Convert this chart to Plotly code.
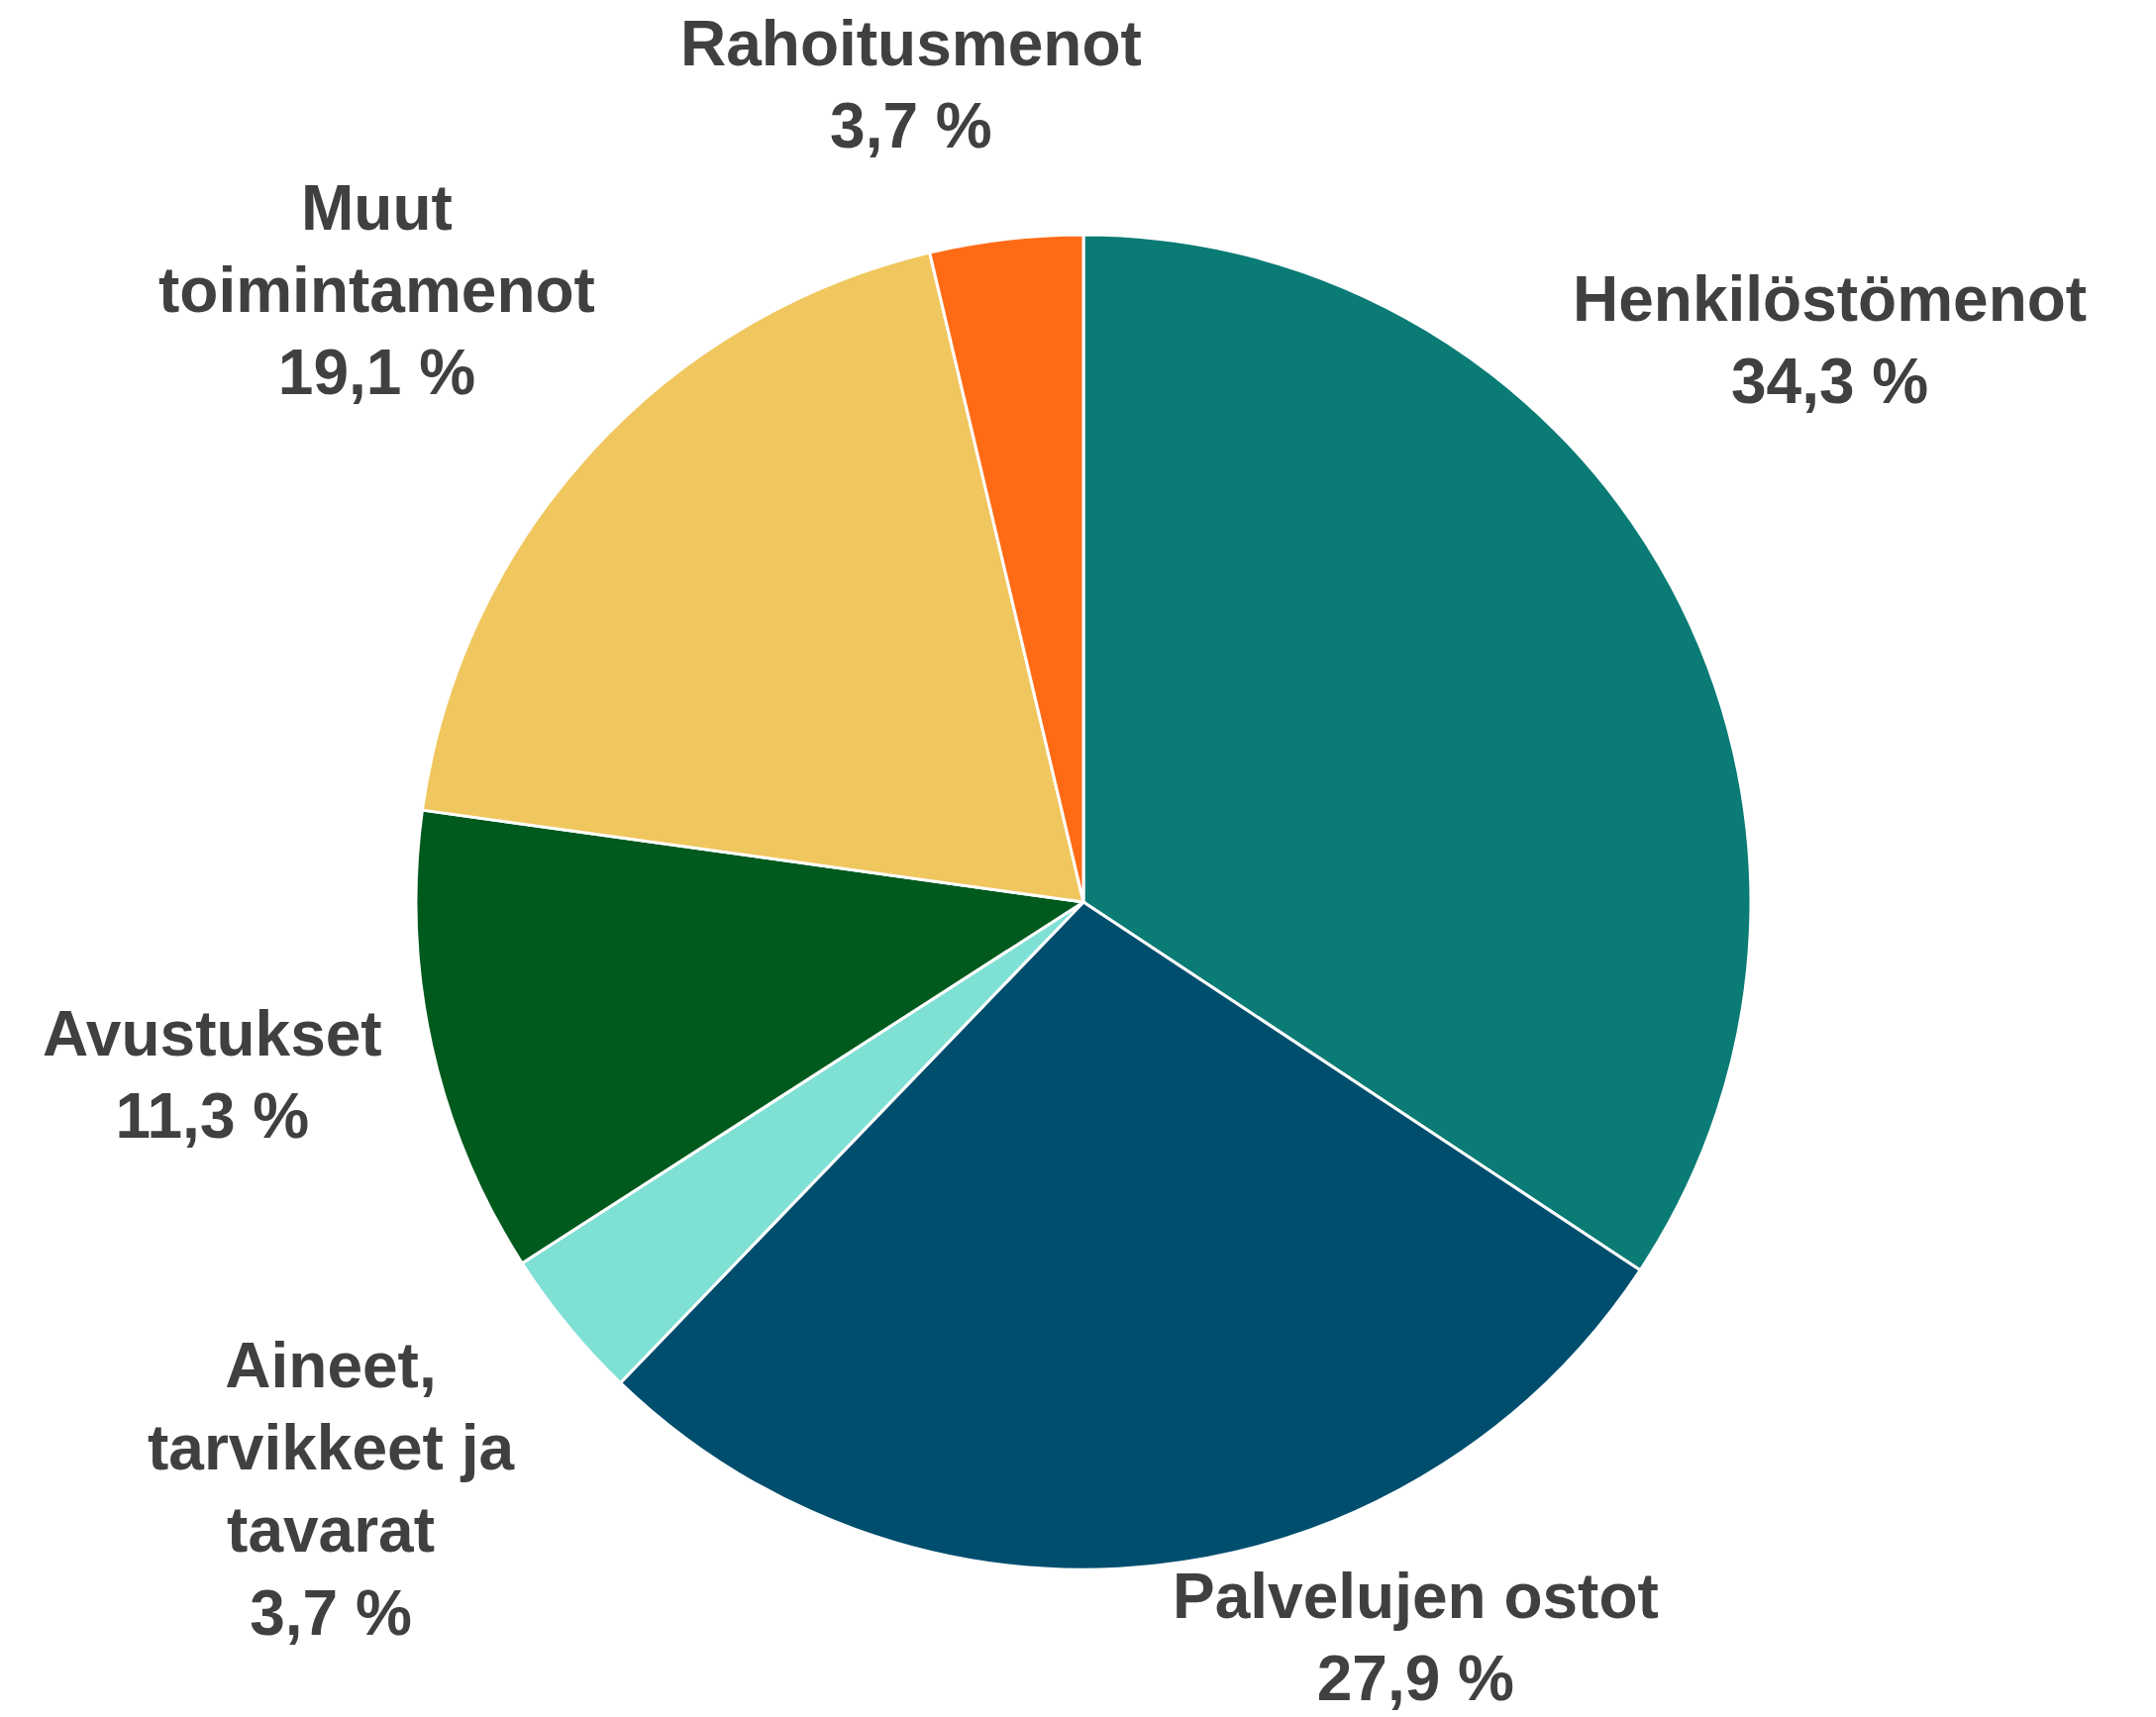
import plotly.graph_objects as go

categories = ["Henkilöstömenot", "Palvelujen ostot", "Aineet, tarvikkeet ja tavarat",
              "Avustukset", "Muut toimintamenot", "Rahoitusmenot"]
label_lines = ["Henkilöstömenot", "Palvelujen ostot", "Aineet,<br>tarvikkeet ja<br>tavarat",
               "Avustukset", "Muut<br>toimintamenot", "Rahoitusmenot"]
values = [34.3, 27.9, 3.7, 11.3, 19.1, 3.7]
colors = ["#0A7B75", "#004E6E", "#7FE0D4", "#005A1E", "#F0C75E", "#FF6B15"]

W, H = 2177, 1734
cx, cy, r = 1086, 903, 674

# label block centres (layout, pixel space)
label_pos = [(1839, 335), (1421, 1645), (326, 1496), (206, 1077), (372, 285), (912, 77)]

fig = go.Figure(go.Pie(
    labels=categories, values=values, sort=False, direction="clockwise", rotation=0,
    marker=dict(colors=colors, line=dict(color="white", width=3)),
    textinfo="none", hoverinfo="label+percent", showlegend=False,
    domain=dict(x=[(cx - r) / W, (cx + r) / W], y=[(H - cy - r) / H, (H - cy + r) / H]),
))

for lab, v, (px, py) in zip(label_lines, values, label_pos):
    txt = f"{lab}<br>{v:.1f}".replace(".", ",") + " %"
    fig.add_annotation(x=px / W, y=1 - py / H, xref="paper", yref="paper",
                       text=txt, showarrow=False, xanchor="center", yanchor="middle",
                       align="center",
                       font=dict(family="Liberation Sans", size=64, color="#404040", weight="bold"))

fig.update_layout(width=W, height=H, margin=dict(l=0, r=0, t=0, b=0),
                  paper_bgcolor="white", plot_bgcolor="white")
fig.write_html("out.html")
